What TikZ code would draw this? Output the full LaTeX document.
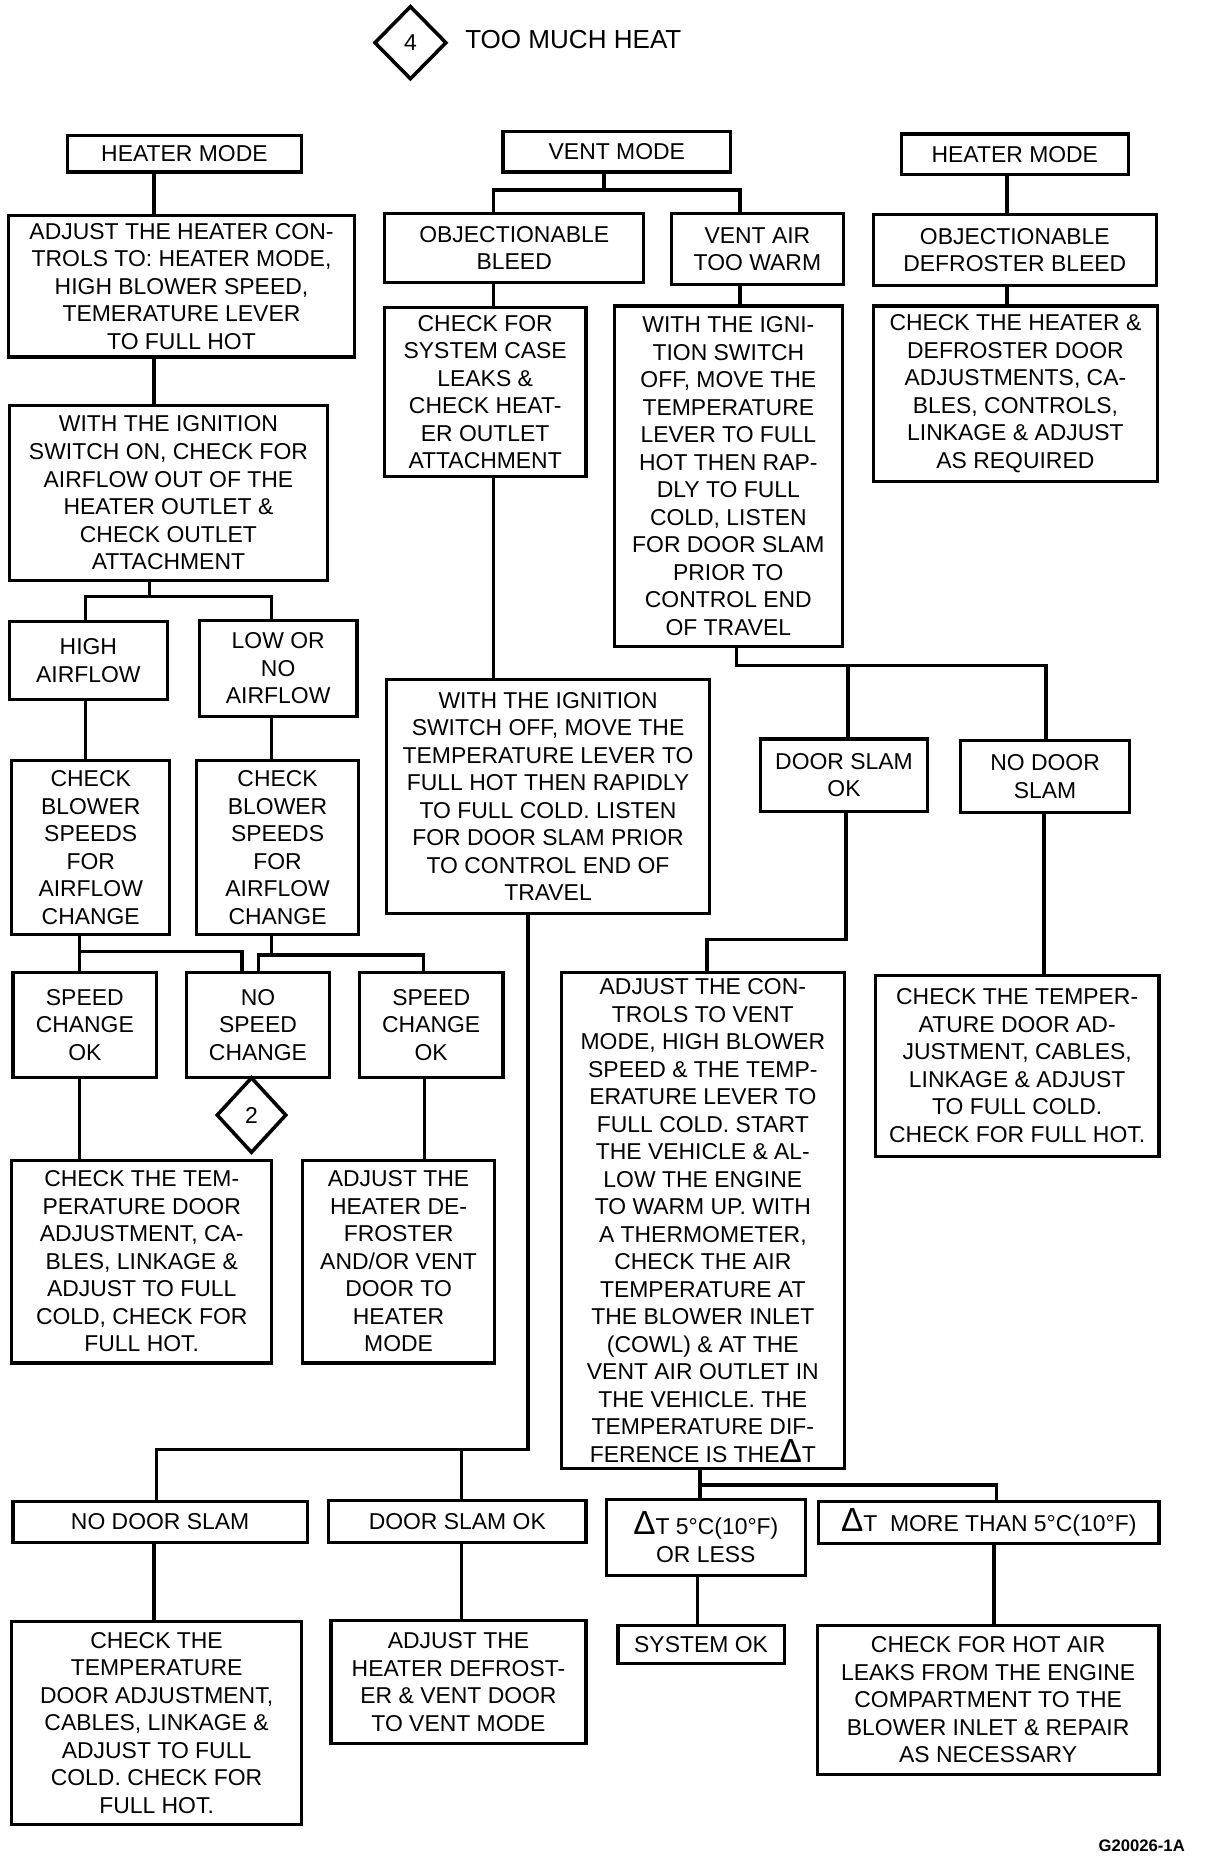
\documentclass[tikz,border=0pt]{standalone}
\usepackage{fontspec}
\setmainfont{Liberation Sans}
\usetikzlibrary{shapes.geometric}
\newcommand{\deltamark}{{\fontsize{16}{13.2}\selectfont Δ}}
\tikzset{
  bx/.style 2 args={minimum width={#1*0.02cm}, minimum height={#2*0.02cm}},
  chartbox/.style={draw, line width=1.5pt, align=center, inner sep=0pt,
    font=\fontsize{11}{13.2}\selectfont},
  refdiamond/.style={draw, diamond, line width=1.7pt, inner sep=0pt,
    font=\fontsize{11}{13}\selectfont},
  chartline/.style={line width=1.7pt}
}

\begin{document}
\begin{tikzpicture}[x=0.02cm, y=-0.02cm]
    \fill[white] (0,0) rectangle (1025,1568);
    \useasboundingbox (0,0) rectangle (1025,1568);

    \node[refdiamond, bx={61}{62}] (ref4) at (346,36) {4};
    \node[anchor=west, font=\fontsize{12.5}{14}\selectfont] (title) at (386,33) {TOO MUCH HEAT};

    \node[chartbox, bx={197}{31}] (heatL) at (155.5,129.5) {HEATER MODE};
    \node[chartbox, bx={192}{34}] (vent) at (520,128) {VENT MODE};
    \node[chartbox, bx={191}{34}] (heatR) at (855.5,130) {HEATER MODE};

    \node[chartbox, bx={292}{119}] (setheat) at (153,241.5) {ADJUST THE HEATER CON-\\TROLS TO: HEATER MODE,\\HIGH BLOWER SPEED,\\TEMERATURE LEVER\\TO FULL HOT};
    \node[chartbox, bx={218}{58}] (objbleed) at (433.5,209) {OBJECTIONABLE\\BLEED};
    \node[chartbox, bx={145}{60}] (warm) at (638.5,210) {VENT AIR\\TOO WARM};
    \node[chartbox, bx={239}{60}] (defbleed) at (855.5,211) {OBJECTIONABLE\\DEFROSTER BLEED};

    \node[chartbox, bx={170}{143}] (caseleak) at (409,330.5) {CHECK FOR\\SYSTEM CASE\\LEAKS \&\\CHECK HEAT-\\ER OUTLET\\ATTACHMENT};
    \node[chartbox, bx={192}{287}] (slamA) at (614,401.5) {WITH THE IGNI-\\TION SWITCH\\OFF, MOVE THE\\TEMPERATURE\\LEVER TO FULL\\HOT THEN RAP-\\DLY TO FULL\\COLD, LISTEN\\FOR DOOR SLAM\\PRIOR TO\\CONTROL END\\OF TRAVEL};
    \node[chartbox, bx={240}{148}] (defdoor) at (856,332) {CHECK THE HEATER \&\\DEFROSTER DOOR\\ADJUSTMENTS, CA-\\BLES, CONTROLS,\\LINKAGE \& ADJUST\\AS REQUIRED};
    \node[chartbox, bx={268}{147}] (airflow) at (142,415.5) {WITH THE IGNITION\\SWITCH ON, CHECK FOR\\AIRFLOW OUT OF THE\\HEATER OUTLET \&\\CHECK OUTLET\\ATTACHMENT};

    \node[chartbox, bx={133}{66}] (highflow) at (74.5,557) {HIGH\\AIRFLOW};
    \node[chartbox, bx={133}{81}] (lowflow) at (234.5,563.5) {LOW OR\\NO\\AIRFLOW};
    \node[chartbox, bx={272}{197}] (slamB) at (462,671.5) {WITH THE IGNITION\\SWITCH OFF, MOVE THE\\TEMPERATURE LEVER TO\\FULL HOT THEN RAPIDLY\\TO FULL COLD. LISTEN\\FOR DOOR SLAM PRIOR\\TO CONTROL END OF\\TRAVEL};
    \node[chartbox, bx={141}{61}] (slamokA) at (711.5,653.5) {DOOR SLAM\\OK};
    \node[chartbox, bx={142}{61}] (noslamA) at (881,654.5) {NO DOOR\\SLAM};

    \node[chartbox, bx={133}{147}] (speedsA) at (76.5,714.5) {CHECK\\BLOWER\\SPEEDS\\FOR\\AIRFLOW\\CHANGE};
    \node[chartbox, bx={136}{147}] (speedsB) at (234,714.5) {CHECK\\BLOWER\\SPEEDS\\FOR\\AIRFLOW\\CHANGE};

    \node[chartbox, bx={121}{88}] (speedokA) at (71.5,864) {SPEED\\CHANGE\\OK};
    \node[chartbox, bx={121}{88}] (nospeed) at (217.5,864) {NO\\SPEED\\CHANGE};
    \node[chartbox, bx={121}{88}] (speedokB) at (363.5,864) {SPEED\\CHANGE\\OK};
    \node[chartbox, bx={239}{418}] (ventcheck) at (592.5,1029) {ADJUST THE CON-\\TROLS TO VENT\\MODE, HIGH BLOWER\\SPEED \& THE TEMP-\\ERATURE LEVER TO\\FULL COLD. START\\THE VEHICLE \& AL-\\LOW THE ENGINE\\TO WARM UP. WITH\\A THERMOMETER,\\CHECK THE AIR\\TEMPERATURE AT\\THE BLOWER INLET\\(COWL) \& AT THE\\VENT AIR OUTLET IN\\THE VEHICLE. THE\\TEMPERATURE DIF-\\FERENCE IS THE\deltamark T};
    \node[chartbox, bx={239}{153}] (tempdoorA) at (857.5,898.5) {CHECK THE TEMPER-\\ATURE DOOR AD-\\JUSTMENT, CABLES,\\LINKAGE \& ADJUST\\TO FULL COLD.\\CHECK FOR FULL HOT.};

    \node[refdiamond, bx={59}{64}] (ref2) at (212,940) {2};
    \node[chartbox, bx={219}{171}] (tempdoorB) at (119.5,1063.5) {CHECK THE TEM-\\PERATURE DOOR\\ADJUSTMENT, CA-\\BLES, LINKAGE \&\\ADJUST TO FULL\\COLD, CHECK FOR\\FULL HOT.};
    \node[chartbox, bx={162}{171}] (heatdoor) at (336,1063.5) {ADJUST THE\\HEATER DE-\\FROSTER\\AND/OR VENT\\DOOR TO\\HEATER\\MODE};

    \node[chartbox, bx={248}{34}] (noslamB) at (135,1283) {NO DOOR SLAM};
    \node[chartbox, bx={217}{35}] (slamokB) at (385.5,1282.5) {DOOR SLAM OK};
    \node[chartbox, bx={168}{64}] (dtlow) at (595,1296) {\deltamark T 5°C(10°F)\\OR LESS};
    \node[chartbox, bx={287}{35}] (dthigh) at (833.5,1283.5) {\deltamark T\ \ MORE THAN 5°C(10°F)};

    \node[chartbox, bx={244}{171}] (tempdoorC) at (132,1452.5) {CHECK THE\\TEMPERATURE\\DOOR ADJUSTMENT,\\CABLES, LINKAGE \&\\ADJUST TO FULL\\COLD. CHECK FOR\\FULL HOT.};
    \node[chartbox, bx={215}{104}] (ventdoor) at (386.5,1418) {ADJUST THE\\HEATER DEFROST-\\ER \& VENT DOOR\\TO VENT MODE};
    \node[chartbox, bx={140}{32}] (sysok) at (591,1386) {SYSTEM OK};
    \node[chartbox, bx={288}{126}] (hotleak) at (833,1433) {CHECK FOR HOT AIR\\LEAKS FROM THE ENGINE\\COMPARTMENT TO THE\\BLOWER INLET \& REPAIR\\AS NECESSARY};

    \node[anchor=east, font=\bfseries\fontsize{8}{9}\selectfont] (figno) at (1005,1556) {G20026-1A};

    \draw[chartline] (heatL.south -| 130,0) -- (setheat.north -| 130,0);
    \draw[chartline] (setheat.south -| 130,0) -- (airflow.north -| 130,0);
    \draw[chartline] (airflow.south -| 126,0) -- (126,503);
    \draw[chartline] (highflow.north -| 72,0) |- (229,503) -- (lowflow.north -| 229,0);
    \draw[chartline] (highflow.south -| 72,0) -- (speedsA.north -| 72,0);
    \draw[chartline] (lowflow.south -| 229,0) -- (speedsB.north -| 229,0);
    \draw[chartline] (speedsA.south -| 67,0) -- (speedokA.north -| 67,0);
    \draw[chartline] (67,802) -| (nospeed.north -| 204,0);
    \draw[chartline] (speedsB.south -| 229,0) -- (229,805);
    \draw[chartline] (nospeed.north -| 218,0) |- (357,805) -- (speedokB.north -| 357,0);
    \draw[chartline] (speedokA.south -| 67,0) -- (tempdoorB.north -| 67,0);
    \draw[chartline] (speedokB.south -| 358,0) -- (heatdoor.north -| 358,0);

    \draw[chartline] (vent.south -| 509,0) -- (509,160);
    \draw[chartline] (objbleed.north -| 416,0) |- (624,160) -- (warm.north -| 624,0);
    \draw[chartline] (objbleed.south -| 416,0) -- (caseleak.north -| 416,0);
    \draw[chartline] (caseleak.south -| 416,0) -- (slamB.north -| 416,0);
    \draw[chartline] (warm.south -| 624,0) -- (slamA.north -| 624,0);
    \draw[chartline] (slamA.south -| 621,0) |- (882,561) -- (noslamA.north -| 882,0);
    \draw[chartline] (715,561) -- (slamokA.north -| 715,0);
    \draw[chartline] (slamokA.south -| 713,0) |- (596,792) -- (ventcheck.north -| 596,0);
    \draw[chartline] (noslamA.south -| 880,0) -- (tempdoorA.north -| 880,0);
    \draw[chartline] (slamB.south -| 445,0) |- (132,1222) -- (noslamB.north -| 132,0);
    \draw[chartline] (389,1222) -- (slamokB.north -| 389,0);
    \draw[chartline] (noslamB.south -| 130,0) -- (tempdoorC.north -| 130,0);
    \draw[chartline] (slamokB.south -| 389,0) -- (ventdoor.north -| 389,0);
    \draw[chartline] (ventcheck.south -| 590,0) -- (dtlow.north -| 590,0);
    \draw[chartline] (590,1252) -| (dthigh.north -| 840,0);
    \draw[chartline] (dtlow.south -| 588,0) -- (sysok.north -| 588,0);
    \draw[chartline] (dthigh.south -| 838,0) -- (hotleak.north -| 838,0);

    \draw[chartline] (heatR.south -| 849,0) -- (defbleed.north -| 849,0);
    \draw[chartline] (defbleed.south -| 849,0) -- (defdoor.north -| 849,0);
\end{tikzpicture}
\end{document}
